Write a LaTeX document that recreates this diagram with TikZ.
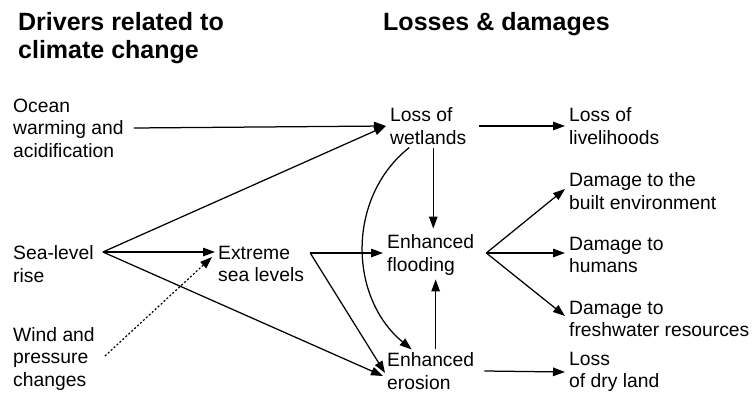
\documentclass[tikz,border=0pt]{standalone}
\usepackage{fontspec}
\setmainfont{Liberation Sans}
\usepackage{tikz}
\usetikzlibrary{arrows.meta, positioning, calc}

\tikzset{
    lbl/.style={anchor=west, align=left, inner sep=0pt, font=\fontsize{19.3}{22.5}\selectfont},
    head/.style={anchor=west, align=left, inner sep=0pt, font=\fontsize{25}{28}\selectfont\bfseries},
    arr/.style={line width=1.25pt, -{Triangle[length=12pt,width=8.5pt]}},
    hint/.style={line width=1.2pt, dash pattern=on 2pt off 2pt, -{Triangle[length=12pt,width=8.5pt]}}
}

\begin{document}
\begin{tikzpicture}[x=1pt, y=-1pt]
    \useasboundingbox (0,0) rectangle (753,393);

    % Column headings
    \node[head] (drivers) at (18,38) {Drivers related to\\climate change};
    \node[head] (losses) at (383,24) {Losses \& damages};

    % Drivers
    \node[lbl] (ocean) at (13,128) {Ocean\\warming and\\acidification};
    \node[lbl] (slr) at (13,264) {Sea-level\\rise};
    \node[lbl] (wind) at (13,359) {Wind and\\pressure\\changes};
    \node[lbl] (ext) at (218,264) {Extreme\\sea levels};

    % Losses and damages
    \node[lbl] (wet) at (390,126) {Loss of\\wetlands};
    \node[lbl] (flood) at (387,255) {Enhanced\\flooding};
    \node[lbl] (eros) at (387,371) {Enhanced\\erosion};
    \node[lbl] (liveli) at (569,126) {Loss of\\livelihoods};
    \node[lbl] (built) at (569,191) {Damage to the\\built environment};
    \node[lbl] (humans) at (569,255) {Damage to\\humans};
    \node[lbl] (fresh) at (569,319) {Damage to\\freshwater resources};
    \node[lbl] (dry) at (569,372) {Loss\\of dry land};

    % Branch points
    \coordinate (slrhub) at ([xshift=9pt,yshift=12pt]slr.east);
    \coordinate (exthub) at ([xshift=6pt,yshift=11pt]ext.east);
    \coordinate (floodhub) at ([xshift=12pt,yshift=2pt]flood.east);

    % Connectors
    \draw[arr] ([xshift=10pt]ocean.east) -- ([xshift=-4pt]wet.west);
    \draw[arr] (slrhub) -- ([xshift=-4pt]wet.west);
    \draw[arr] (slrhub) -- ([xshift=-3pt]slrhub -| ext.west);
    \draw[arr] (slrhub) -- ([xshift=-4pt,yshift=-5pt]eros.west);
    \draw[hint] ([xshift=10pt,yshift=3pt]wind.east) -- ([xshift=-6pt,yshift=7pt]ext.west);
    \draw[arr] (exthub) -- ([xshift=-4pt]exthub -| flood.west);
    \draw[arr] (exthub) -- ([xshift=-2pt,yshift=-2pt]eros.west);
    \draw[arr] ([xshift=5pt,yshift=-3pt]wet.south) -- ([xshift=5pt,yshift=6pt]wet.south |- flood.north);
    \draw[arr] ([xshift=5pt,yshift=3pt]eros.north) -- ([xshift=5pt,yshift=-4pt]eros.north |- flood.south);
    \draw[arr] ([xshift=-19pt,yshift=-3pt]wet.south) .. controls +(-63,50) and +(-63,-52) .. ([xshift=-19pt,yshift=3pt]eros.north);
    \draw[arr] ([xshift=12pt]wet.east) -- ([xshift=-4pt]liveli.west);
    \draw[arr] (floodhub) -- ([xshift=-4pt,yshift=2pt]built.west);
    \draw[arr] (floodhub) -- ([xshift=-4pt,yshift=2pt]humans.west);
    \draw[arr] (floodhub) -- ([xshift=-4pt,yshift=3pt]fresh.west);
    \draw[arr] ([xshift=10pt]eros.east) -- ([xshift=-4pt]dry.west);
\end{tikzpicture}
\end{document}
